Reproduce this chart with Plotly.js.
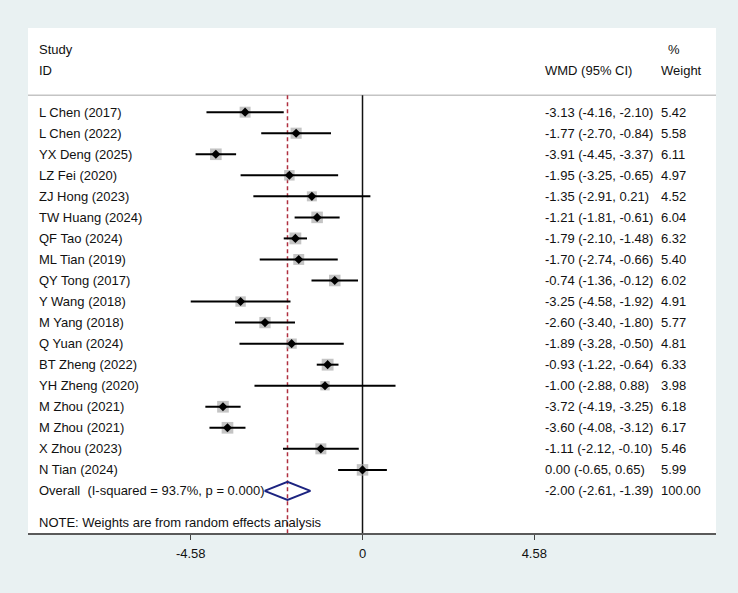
<!DOCTYPE html>
<html>
<head>
<meta charset="utf-8">
<script src="https://cdn.plot.ly/plotly-3.0.1.min.js"></script>
<style>
  html, body { margin: 0; padding: 0; background: #e9f1f2; }
  #chart { width: 738px; height: 593px; }
</style>
</head>
<body>
<div id="chart"></div>
<script>
// Study-level weighted mean differences (WMD) with 95% CI and random-effects weights
const studies = [
  "L Chen (2017)", "L Chen (2022)", "YX Deng (2025)", "LZ Fei (2020)",
  "ZJ Hong (2023)", "TW Huang (2024)", "QF Tao (2024)", "ML Tian (2019)",
  "QY Tong (2017)", "Y Wang (2018)", "M Yang (2018)", "Q Yuan (2024)",
  "BT Zheng (2022)", "YH Zheng (2020)", "M Zhou (2021)", "M Zhou (2021)",
  "X Zhou (2023)", "N Tian (2024)"
];
const wmd = [-3.13, -1.77, -3.91, -1.95, -1.35, -1.21, -1.79, -1.70, -0.74,
             -3.25, -2.60, -1.89, -0.93, -1.00, -3.72, -3.60, -1.11, 0.00];
const ciLow = [-4.16, -2.70, -4.45, -3.25, -2.91, -1.81, -2.10, -2.74, -1.36,
               -4.58, -3.40, -3.28, -1.22, -2.88, -4.19, -4.08, -2.12, -0.65];
const ciHigh = [-2.10, -0.84, -3.37, -0.65, 0.21, -0.61, -1.48, -0.66, -0.12,
                -1.92, -1.80, -0.50, -0.64, 0.88, -3.25, -3.12, -0.10, 0.65];
const weights = [5.42, 5.58, 6.11, 4.97, 4.52, 6.04, 6.32, 5.40, 6.02,
                 4.91, 5.77, 4.81, 6.33, 3.98, 6.18, 6.17, 5.46, 5.99];

// Pooled estimate
const overallLabel = "Overall\u00a0\u00a0(I-squared = 93.7%, p = 0.000)";
const overallWmd = -2.00;
const overallLow = -2.61;
const overallHigh = -1.39;
const overallWeight = 100.00;

const noteText = "NOTE: Weights are from random effects analysis";
const xTicks = [-4.58, 0, 4.58];

// Row positions (top to bottom)
const rows = studies.map((_, i) => i + 1);
const overallRow = studies.length + 1;
const noteRow = overallRow + 1.5;

const fmt = v => v.toFixed(2);
const ciText = (e, l, h) => `${fmt(e)} (${fmt(l)}, ${fmt(h)})`;

// Confidence-interval segments, separated by nulls
const segX = [], segY = [];
rows.forEach((r, i) => {
  segX.push(ciLow[i], ciHigh[i], null);
  segY.push(r, r, null);
});

const traces = [
  {
    // weight boxes (area proportional to weight)
    type: "scatter", mode: "markers",
    x: wmd, y: rows,
    marker: { symbol: "square", color: "#ababab",
              size: weights.map(w => 4.7 * Math.sqrt(w)), line: { width: 0 } },
    hoverinfo: "skip"
  },
  {
    type: "scatter", mode: "lines",
    x: segX, y: segY,
    line: { color: "#000000", width: 2 },
    hoverinfo: "skip"
  },
  {
    type: "scatter", mode: "markers",
    x: wmd, y: rows,
    marker: { symbol: "diamond", color: "#000000", size: 7 },
    hoverinfo: "skip"
  },
  {
    // pooled-effect diamond
    type: "scatter", mode: "lines",
    x: [overallLow, overallWmd, overallHigh, overallWmd, overallLow],
    y: [overallRow, overallRow - 0.43, overallRow, overallRow + 0.43, overallRow],
    line: { color: "#1c2380", width: 2 },
    hoverinfo: "skip"
  }
];

const font = { family: "Liberation Sans, Arial, sans-serif", size: 13, color: "#111111" };
const W = 738, ML = 28, MR = 22;
const plotW = W - ML - MR;
const px = p => (p - ML) / plotW; // pixel column -> paper fraction

const annotations = [];
const addText = (text, xPix, y) => annotations.push({
  text, x: px(xPix), xref: "paper", y, yref: "y",
  xanchor: "left", yanchor: "middle", showarrow: false, font
});

addText("Study", 37, -2);
addText("ID", 37, -1);
addText("WMD (95% CI)", 543, -1);
addText("%", 666, -2);
addText("Weight", 659, -1);

rows.forEach((r, i) => {
  addText(studies[i], 37, r);
  addText(ciText(wmd[i], ciLow[i], ciHigh[i]), 543, r);
  addText(fmt(weights[i]), 659, r);
});
addText(overallLabel, 37, overallRow);
addText(ciText(overallWmd, overallLow, overallHigh), 543, overallRow);
addText(fmt(overallWeight), 659, overallRow);
addText(noteText, 37, noteRow);

const shapes = [
  { type: "line", xref: "paper", x0: 0, x1: 1, yref: "y", y0: 0.2, y1: 0.2,
    line: { color: "#c4c4c4", width: 1.5 }, layer: "below" },
  { type: "line", xref: "x", x0: 0, x1: 0, yref: "y", y0: 0.2, y1: 21,
    line: { color: "#111111", width: 1.5 }, layer: "below" },
  { type: "line", xref: "x", x0: overallWmd, x1: overallWmd, yref: "y", y0: 0.2, y1: 21,
    line: { color: "#b02f3f", width: 1.5, dash: "4px,3px" }, layer: "below" }
];

const layout = {
  width: 738, height: 593, autosize: false,
  margin: { l: ML, r: MR, t: 28, b: 60, pad: 0 },
  paper_bgcolor: "#e9f1f2",
  plot_bgcolor: "#ffffff",
  showlegend: false,
  font,
  xaxis: {
    range: [-8.918, 9.424], showgrid: false, zeroline: false,
    showline: true, linecolor: "#5a5a5a", linewidth: 2,
    ticks: "outside", ticklen: 5, tickwidth: 1, tickcolor: "#444",
    ticklabelstandoff: 2,
    tickvals: xTicks, ticktext: xTicks.map(v => v === 0 ? "0" : v.toFixed(2)),
    tickfont: font, fixedrange: true
  },
  yaxis: {
    range: [21, -3], showgrid: false, zeroline: false, showline: false,
    showticklabels: false, ticks: "", fixedrange: true
  },
  shapes, annotations
};

Plotly.newPlot("chart", traces, layout, { displayModeBar: false, staticPlot: true });
</script>
</body>
</html>
